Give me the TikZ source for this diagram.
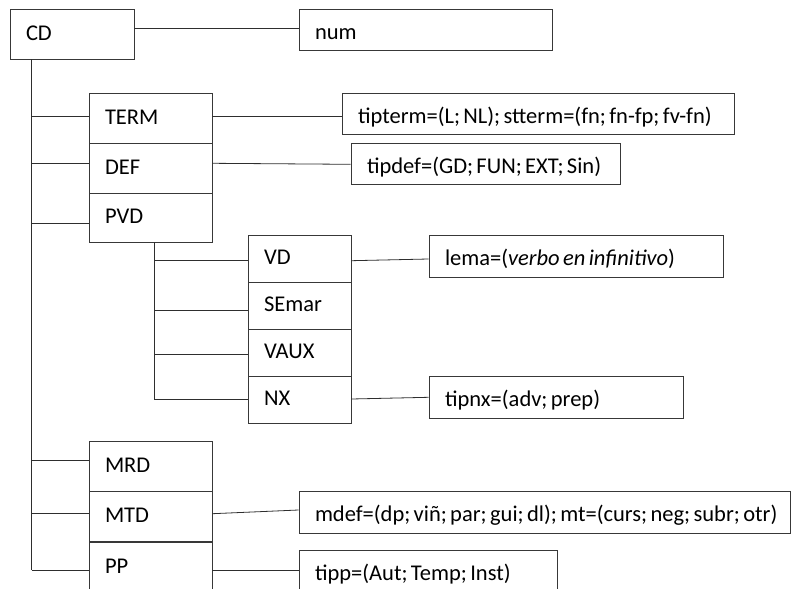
\documentclass[tikz,border=0pt]{standalone}
\usepackage{fontspec}
\setmainfont{Carlito}
\frenchspacing
\usetikzlibrary{calc}
\newcommand\tx[1]{\mbox{\spaceskip=0.15em\relax\xspaceskip=0.15em\relax #1}}
\begin{document}
\begin{tikzpicture}[x=1pt,y=-1pt,
  box/.style={draw=black!78, line width=0.9pt, fill=white, rectangle,
    inner xsep=16pt, inner ysep=0pt, align=left, anchor=center,
    font=\fontsize{22.5}{26}\selectfont, text height=17pt, text depth=5pt},
  attr/.style={box, text height=24pt, text depth=5pt},
  conn/.style={draw=black!82, line width=0.8pt}]
\useasboundingbox (0,0) rectangle (793,589);
% left column boxes
\node[box, text width=92pt, minimum height=50pt] (CD) at (72,34) {\tx{CD}};
\node[box, text width=91pt, minimum height=50pt] (TERM) at (150.5,118) {\tx{TERM}};
\node[box, text width=91pt, minimum height=50pt] (DEF) at (150.5,168) {\tx{DEF}};
\node[box, text width=91pt, minimum height=49pt] (PVD) at (150.5,217.5) {\tx{PVD}};
\node[box, text width=91pt, minimum height=49.5pt] (MRD) at (150.5,466.5) {\tx{MRD}};
\node[box, text width=91pt, minimum height=50pt] (MTD) at (150.5,516.5) {\tx{MTD}};
\node[box, text width=91pt, minimum height=50pt] (PP) at (150.5,567) {\tx{PP}};
% PVD children
\node[box, text width=71pt, minimum height=47pt] (VD) at (299.5,258.5) {\tx{VD}};
\node[box, text width=71pt, minimum height=47pt] (SEmar) at (299.5,305.5) {\tx{SEmar}};
\node[box, text width=71pt, minimum height=47pt] (VAUX) at (299.5,352.5) {\tx{VAUX}};
\node[box, text width=71pt, minimum height=47pt] (NX) at (299.5,399.5) {\tx{NX}};
% attribute boxes
\node[attr, text width=221pt, minimum height=41pt] (num) at (425.5,29.5) {\tx{num}};
\node[attr, text width=360pt, minimum height=41pt] (tipterm) at (538,113.5) {\tx{tipterm=(L; NL); stterm=(fn; fn-fp; fv-fn)}};
\node[attr, text width=237pt, minimum height=41pt] (tipdef) at (485.5,163.5) {\tx{tipdef=(GD; FUN; EXT; Sin)}};
\node[attr, text width=262pt, minimum height=42pt] (lema) at (576,256) {\tx{lema=(\textit{verbo en infinitivo})}};
\node[attr, text width=222pt, minimum height=42pt] (tipnx) at (556,397) {\tx{tipnx=(adv; prep)}};
\node[attr, text width=459pt, minimum height=42pt] (mdef) at (544.5,512) {\tx{mdef=(dp; viñ; par; gui; dl); mt=(curs; neg; subr; otr)}};
\node[attr, text width=226pt, minimum height=42pt] (tipp) at (428,571) {\tx{tipp=(Aut; Temp; Inst)}};
% main trunk
\coordinate (T0) at ([xshift=22pt]CD.south west);
\coordinate (T1) at ([yshift=-3.3pt]PP.west -| T0);
\draw[conn] (T0) -- (T1);
\foreach \n/\s in {TERM/1.3, DEF/5, PVD/-5.5, MRD/6.5, MTD/2.8, PP/-3.3}
  \draw[conn] ([yshift=\s pt]\n.west -| T0) -- ([yshift=\s pt]\n.west);
% PVD sub-trunk
\coordinate (S0) at ([xshift=3.8pt]PVD.south);
\coordinate (S1) at ([yshift=0.5pt]NX.west -| S0);
\draw[conn] (S0) -- (S1);
\foreach \n/\s in {VD/-2.2, SEmar/-5.2, VAUX/-1.8, NX/0.5}
  \draw[conn] ([yshift=\s pt]\n.west -| S0) -- ([yshift=\s pt]\n.west);
% attribute connectors
\draw[conn] ([yshift=6pt]CD.east) -- ([yshift=1.5pt]num.west);
\draw[conn] ([yshift=1.3pt]TERM.east) -- ([yshift=-3.2pt]tipterm.west);
\draw[conn] ([yshift=4.7pt]DEF.east) -- ([yshift=-0.8pt]tipdef.west);
\draw[conn] ([yshift=-2.2pt]VD.east) -- ([yshift=-3pt]lema.west);
\draw[conn] ([yshift=0.5pt]NX.east) -- ([yshift=-0.3pt]tipnx.west);
\draw[conn] ([yshift=2.8pt]MTD.east) -- ([yshift=2pt]mdef.west);
\draw[conn] ([yshift=-3.3pt]PP.east) -- ([yshift=0.7pt]tipp.west);
\end{tikzpicture}
\end{document}
